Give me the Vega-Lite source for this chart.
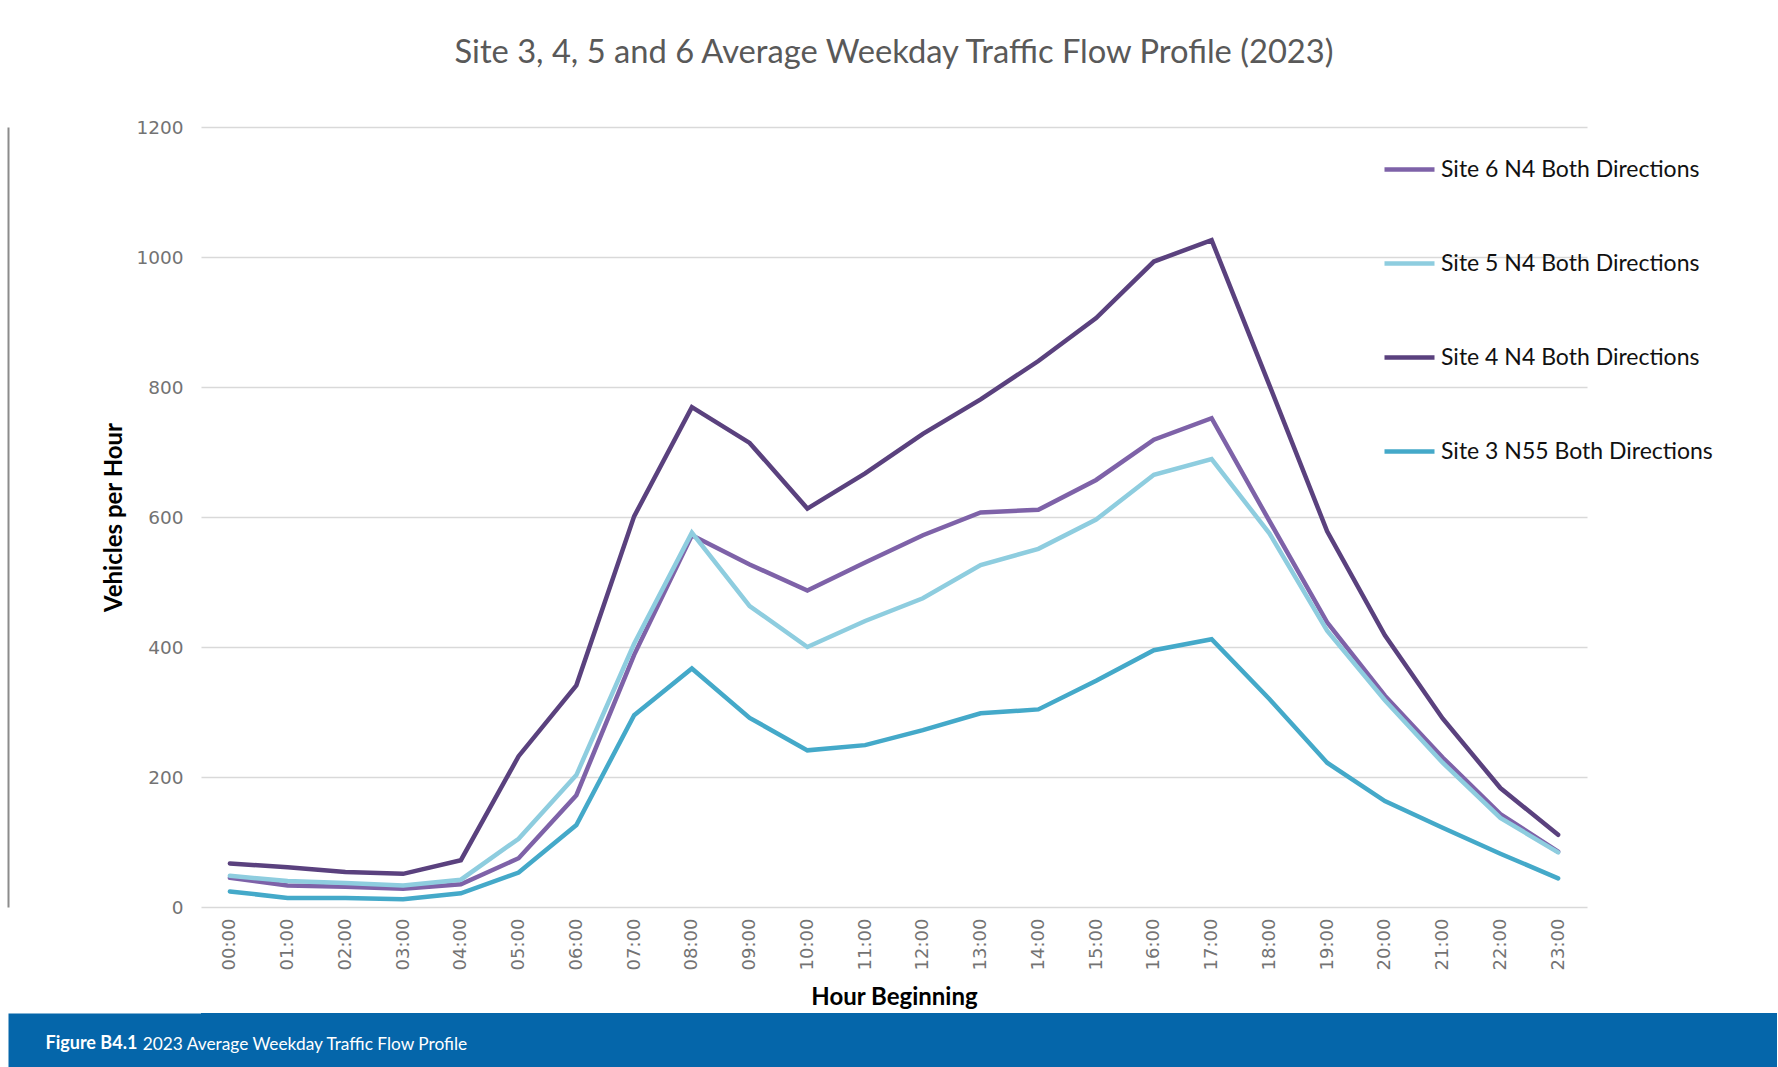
{
  "$schema": "https://vega.github.io/schema/vega-lite/v6.json",
  "background": "white",
  "padding": {"left": 8, "top": 37, "right": 0, "bottom": 0},
  "config": {"view": {"stroke": null}},
  "spacing": 3,
  "resolve": {"scale": {"color": "independent", "y": "independent", "x": "independent"}, "legend": {"color": "independent"}},
  "vconcat": [
    {
      "width": 1386,
      "height": 780,
      "title": {"text": "Site 3, 4, 5 and 6 Average Weekday Traffic Flow Profile (2023)", "font": "Lato", "fontSize": 32.7, "fontWeight": "normal", "color": "#595959", "offset": 48, "anchor": "middle", "frame": "group"},
      "data": {"values": [
        {"hour": "00:00", "Site 6 N4 Both Directions": 45, "Site 5 N4 Both Directions": 48, "Site 4 N4 Both Directions": 67, "Site 3 N55 Both Directions": 24},
        {"hour": "01:00", "Site 6 N4 Both Directions": 33, "Site 5 N4 Both Directions": 40, "Site 4 N4 Both Directions": 61, "Site 3 N55 Both Directions": 14},
        {"hour": "02:00", "Site 6 N4 Both Directions": 31, "Site 5 N4 Both Directions": 37, "Site 4 N4 Both Directions": 54, "Site 3 N55 Both Directions": 14},
        {"hour": "03:00", "Site 6 N4 Both Directions": 28, "Site 5 N4 Both Directions": 33, "Site 4 N4 Both Directions": 51, "Site 3 N55 Both Directions": 12},
        {"hour": "04:00", "Site 6 N4 Both Directions": 35, "Site 5 N4 Both Directions": 42, "Site 4 N4 Both Directions": 72, "Site 3 N55 Both Directions": 21},
        {"hour": "05:00", "Site 6 N4 Both Directions": 75, "Site 5 N4 Both Directions": 105, "Site 4 N4 Both Directions": 232, "Site 3 N55 Both Directions": 53},
        {"hour": "06:00", "Site 6 N4 Both Directions": 172, "Site 5 N4 Both Directions": 203, "Site 4 N4 Both Directions": 341, "Site 3 N55 Both Directions": 126},
        {"hour": "07:00", "Site 6 N4 Both Directions": 388, "Site 5 N4 Both Directions": 405, "Site 4 N4 Both Directions": 601, "Site 3 N55 Both Directions": 295},
        {"hour": "08:00", "Site 6 N4 Both Directions": 572, "Site 5 N4 Both Directions": 576, "Site 4 N4 Both Directions": 769, "Site 3 N55 Both Directions": 367},
        {"hour": "09:00", "Site 6 N4 Both Directions": 527, "Site 5 N4 Both Directions": 463, "Site 4 N4 Both Directions": 714, "Site 3 N55 Both Directions": 291},
        {"hour": "10:00", "Site 6 N4 Both Directions": 487, "Site 5 N4 Both Directions": 400, "Site 4 N4 Both Directions": 613, "Site 3 N55 Both Directions": 241},
        {"hour": "11:00", "Site 6 N4 Both Directions": 530, "Site 5 N4 Both Directions": 440, "Site 4 N4 Both Directions": 667, "Site 3 N55 Both Directions": 249},
        {"hour": "12:00", "Site 6 N4 Both Directions": 572, "Site 5 N4 Both Directions": 475, "Site 4 N4 Both Directions": 728, "Site 3 N55 Both Directions": 272},
        {"hour": "13:00", "Site 6 N4 Both Directions": 607, "Site 5 N4 Both Directions": 526, "Site 4 N4 Both Directions": 781, "Site 3 N55 Both Directions": 298},
        {"hour": "14:00", "Site 6 N4 Both Directions": 611, "Site 5 N4 Both Directions": 551, "Site 4 N4 Both Directions": 840, "Site 3 N55 Both Directions": 304},
        {"hour": "15:00", "Site 6 N4 Both Directions": 657, "Site 5 N4 Both Directions": 596, "Site 4 N4 Both Directions": 906, "Site 3 N55 Both Directions": 348},
        {"hour": "16:00", "Site 6 N4 Both Directions": 719, "Site 5 N4 Both Directions": 665, "Site 4 N4 Both Directions": 993, "Site 3 N55 Both Directions": 395},
        {"hour": "17:00", "Site 6 N4 Both Directions": 752, "Site 5 N4 Both Directions": 689, "Site 4 N4 Both Directions": 1026, "Site 3 N55 Both Directions": 412},
        {"hour": "18:00", "Site 6 N4 Both Directions": 594, "Site 5 N4 Both Directions": 575, "Site 4 N4 Both Directions": 803, "Site 3 N55 Both Directions": 320},
        {"hour": "19:00", "Site 6 N4 Both Directions": 438, "Site 5 N4 Both Directions": 425, "Site 4 N4 Both Directions": 578, "Site 3 N55 Both Directions": 222},
        {"hour": "20:00", "Site 6 N4 Both Directions": 325, "Site 5 N4 Both Directions": 318, "Site 4 N4 Both Directions": 418, "Site 3 N55 Both Directions": 163},
        {"hour": "21:00", "Site 6 N4 Both Directions": 230, "Site 5 N4 Both Directions": 222, "Site 4 N4 Both Directions": 290, "Site 3 N55 Both Directions": 122},
        {"hour": "22:00", "Site 6 N4 Both Directions": 143, "Site 5 N4 Both Directions": 137, "Site 4 N4 Both Directions": 183, "Site 3 N55 Both Directions": 82},
        {"hour": "23:00", "Site 6 N4 Both Directions": 85, "Site 5 N4 Both Directions": 84, "Site 4 N4 Both Directions": 111, "Site 3 N55 Both Directions": 44}
      ]},
      "transform": [
        {"fold": ["Site 6 N4 Both Directions", "Site 5 N4 Both Directions", "Site 4 N4 Both Directions", "Site 3 N55 Both Directions"], "as": ["site", "vph"]}
      ],
      "mark": {"type": "line", "strokeWidth": 4.5, "strokeJoin": "miter", "strokeCap": "round"},
      "encoding": {
        "x": {"field": "hour", "type": "ordinal", "scale": {"type": "point", "padding": 0.5},
          "axis": {"title": "Hour Beginning", "titleFont": "Lato", "titleFontSize": 24, "titleFontWeight": "bold", "titleColor": "#000000", "titlePadding": 16,
            "labelAngle": -90, "labelFont": "DejaVu Sans", "labelFontSize": 18, "labelColor": "#737373", "labelPadding": 11,
            "ticks": false, "domain": false, "grid": false}},
        "y": {"field": "vph", "type": "quantitative", "scale": {"domain": [0, 1200]},
          "axis": {"title": "Vehicles per Hour", "titleFont": "Lato", "titleFontSize": 24, "titleFontWeight": "bold", "titleColor": "#000000",
            "titleX": 106, "titleY": 390, "titleBaseline": "middle", "titleAngle": -90, "titleAlign": "center",
            "offset": 193, "domain": true, "domainColor": "#8c8c8c", "domainWidth": 2,
            "values": [0, 200, 400, 600, 800, 1000, 1200], "format": "d", "labelFont": "DejaVu Sans", "labelFontSize": 18.5, "labelColor": "#737373", "labelPadding": -175,
            "ticks": false, "grid": true, "gridColor": "#d9d9d9", "gridWidth": 1.5}},
        "color": {"field": "site", "type": "nominal",
          "scale": {"domain": ["Site 6 N4 Both Directions", "Site 5 N4 Both Directions", "Site 4 N4 Both Directions", "Site 3 N55 Both Directions"], "range": ["#7e62a8", "#8ecddf", "#5a417e", "#44a9c9"]},
          "legend": {"title": null, "orient": "none", "legendX": 1181, "legendY": 15, "padding": 0, "symbolType": "stroke", "symbolSize": 2500, "symbolStrokeWidth": 4.5,
            "labelFont": "Lato", "labelFontSize": 23, "labelColor": "#111111", "labelOffset": 4, "labelLimit": 400, "rowPadding": 54}}
      }
    },
    {
      "width": 1576,
      "height": 54,
      "data": {"values": [{"caption": "2023 Average Weekday Traffic Flow Profile"}]},
      "mark": {"type": "rect"},
      "encoding": {
        "y": {"field": "caption", "type": "nominal", "scale": {"paddingInner": 0, "paddingOuter": 0},
          "axis": {"title": null, "labels": false, "ticks": false, "grid": false, "domain": true, "domainColor": "#0566aa", "domainWidth": 193, "domainCap": "butt", "offset": 96.5, "zindex": 0}},
        "color": {"field": "caption", "type": "nominal", "scale": {"range": ["#0566aa"]},
          "legend": {"title": "Figure B4.1", "titleOrient": "left", "orient": "none", "legendX": -155.5, "legendY": 23, "padding": 0, "zindex": 2,
            "titleFont": "Lato", "titleFontSize": 18, "titleFontWeight": "bold", "titleColor": "#ffffff", "titlePadding": -12,
            "labelFont": "Lato", "labelFontSize": 17.3, "labelColor": "#ffffff", "labelOffset": 0, "labelLimit": 600,
            "symbolSize": 0, "symbolOpacity": 0, "symbolStrokeWidth": 0}}
      }
    }
  ]
}
